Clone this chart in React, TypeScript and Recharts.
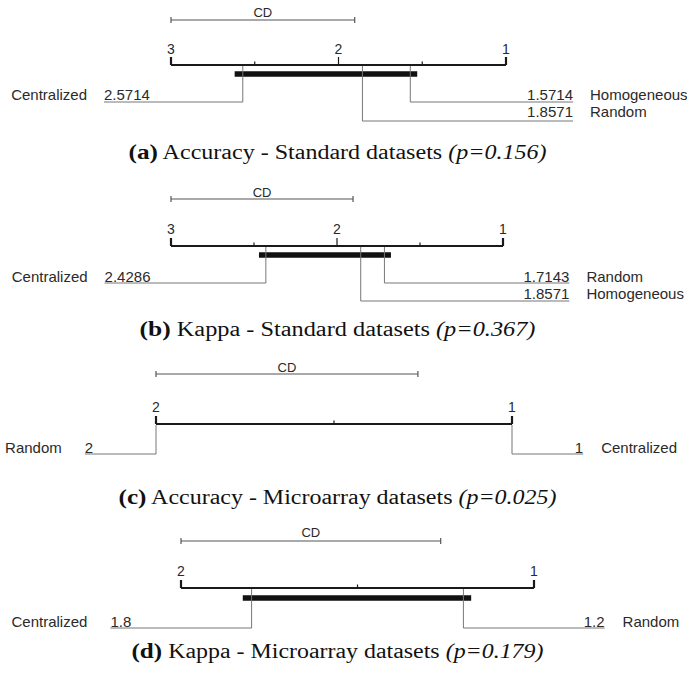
import React from 'react';
import { ComposedChart, XAxis, YAxis, ReferenceLine, ReferenceArea, Scatter } from 'recharts';

const W = 687;
const H = 674;

// (a) Accuracy - Standard datasets
const methodsA = ['Centralized', 'Homogeneous', 'Random'];
const ranksA = [2.5714, 1.5714, 1.8571];
const ticksA = [3, 2.5, 2, 1.5, 1];
const cliqueA = [2.62, 1.53];
const cdA = 1.0967;

// (b) Kappa - Standard datasets
const methodsB = ['Centralized', 'Random', 'Homogeneous'];
const ranksB = [2.4286, 1.7143, 1.8571];
const ticksB = [3, 2.5, 2, 1.5, 1];
const cliqueB = [2.47, 1.675];
const cdB = 1.0967;

// (c) Accuracy - Microarray datasets
const methodsC = ['Random', 'Centralized'];
const ranksC = [2, 1];
const ticksC = [2, 1.5, 1];
const cliqueC: number[] = [];
const cdC = 0.7357;

// (d) Kappa - Microarray datasets
const methodsD = ['Centralized', 'Random'];
const ranksD = [1.8, 1.2];
const ticksD = [2, 1.5, 1];
const cliqueD = [1.825, 1.178];
const cdD = 0.7357;

const captionTags = ['(a)', '(b)', '(c)', '(d)'];
const captionTitles = [
  'Accuracy - Standard datasets',
  'Kappa - Standard datasets',
  'Accuracy - Microarray datasets',
  'Kappa - Microarray datasets',
];
const pValues = ['0.156', '0.367', '0.025', '0.179'];

const PANELS = [
  { methods: methodsA, ranks: ranksA, ticks: ticksA, clique: cliqueA, cd: cdA },
  { methods: methodsB, ranks: ranksB, ticks: ticksB, clique: cliqueB, cd: cdB },
  { methods: methodsC, ranks: ranksC, ticks: ticksC, clique: cliqueC, cd: cdC },
  { methods: methodsD, ranks: ranksD, ticks: ticksD, clique: cliqueD, cd: cdD },
];

// pixel layout of each panel (y values are relative to the panel top)
const LAYOUT = [
  { top: 0, height: 170, axisL: 171, axisR: 506, cdY: 20, cdText: 16.5, tickText: 54, axisY: 65, cliqueY: 74, lineRows: [102, 121], textRows: [100, 117], gapL: 17, gapR: 17, capY: 159, capW: 418 },
  { top: 170, height: 170, axisL: 171, axisR: 503, cdY: 29, cdText: 26.5, tickText: 64, axisY: 76, cliqueY: 85, lineRows: [113, 131], textRows: [111.5, 128.5], gapL: 17, gapR: 17, capY: 336, capW: 396 },
  { top: 340, height: 160, axisL: 156, axisR: 512, cdY: 34, cdText: 31.5, tickText: 72, axisY: 84, cliqueY: 0, lineRows: [114], textRows: [113], gapL: 23, gapR: 18, capY: 504, capW: 438 },
  { top: 500, height: 174, axisL: 181, axisR: 534, cdY: 41, cdText: 36.5, tickText: 76, axisY: 88, cliqueY: 98, lineRows: [128], textRows: [127], gapL: 23, gapR: 18, capY: 658, capW: 412 },
];

const SANS = '"Liberation Sans", Arial, Helvetica, sans-serif';
const TEXT = '#2a2a2a';
const CONNECT = '#777';

const TextShape = (props: any) => {
  const { cx, cy, payload } = props;
  return (
    <text
      x={cx + (payload.dx || 0)}
      y={cy}
      textAnchor={payload.anchor}
      fontSize={payload.size}
      fontFamily={SANS}
      fill={TEXT}
    >
      {payload.text}
    </text>
  );
};

function CDPanel({ idx }: { idx: number }) {
  const p = PANELS[idx];
  const L = LAYOUT[idx];
  const hi = p.ticks[0];
  const span = hi - 1;
  const ppu = (L.axisR - L.axisL) / span;
  const dMax = hi + L.axisL / ppu;
  const dMin = 1 - (W - L.axisR) / ppu;
  const leftEnd = hi + 0.2 * span;
  const rightEnd = 1 - 0.2 * span;

  const sorted = p.methods.map((m, i) => ({ m, r: p.ranks[i] })).sort((a, b) => b.r - a.r);
  const nLeft = Math.floor(sorted.length / 2);
  const left = sorted.slice(0, nLeft);
  const right = sorted.slice(nLeft).reverse();

  const texts: any[] = [];
  texts.push({ x: hi - p.cd / 2, y: L.cdText, text: 'CD', anchor: 'middle', size: 13 });
  p.ticks
    .filter((t) => Number.isInteger(t))
    .forEach((t) => texts.push({ x: t, y: L.tickText, text: String(t), anchor: 'middle', size: 14 }));
  left.forEach((d, i) => {
    texts.push({ x: leftEnd, y: L.textRows[i], text: String(d.r), anchor: 'start', size: 15 });
    texts.push({ x: leftEnd, y: L.textRows[i], text: d.m, anchor: 'end', size: 15, dx: -L.gapL });
  });
  right.forEach((d, i) => {
    texts.push({ x: rightEnd, y: L.textRows[i], text: String(d.r), anchor: 'end', size: 15 });
    texts.push({ x: rightEnd, y: L.textRows[i], text: d.m, anchor: 'start', size: 15, dx: L.gapR });
  });

  return (
    <div style={{ position: 'absolute', left: 0, top: L.top }}>
      <ComposedChart width={W} height={L.height} margin={{ top: 0, right: 0, bottom: 0, left: 0 }}>
        <XAxis type="number" dataKey="x" domain={[dMin, dMax]} reversed allowDataOverflow hide />
        <YAxis type="number" dataKey="y" domain={[0, L.height]} reversed allowDataOverflow hide />

        {/* critical difference bar */}
        <ReferenceLine segment={[{ x: hi, y: L.cdY }, { x: hi - p.cd, y: L.cdY }]} stroke="#555" strokeWidth={1.2} />
        <ReferenceLine segment={[{ x: hi, y: L.cdY - 3 }, { x: hi, y: L.cdY + 3 }]} stroke="#555" strokeWidth={1.2} />
        <ReferenceLine segment={[{ x: hi - p.cd, y: L.cdY - 3 }, { x: hi - p.cd, y: L.cdY + 3 }]} stroke="#555" strokeWidth={1.2} />

        {/* rank axis */}
        <ReferenceLine segment={[{ x: hi, y: L.axisY }, { x: 1, y: L.axisY }]} stroke="#1a1a1a" strokeWidth={2} />
        {p.ticks.map((t) => {
          const major = Number.isInteger(t);
          const end = t === hi || t === 1;
          return (
            <ReferenceLine
              key={'t' + t}
              segment={[{ x: t, y: L.axisY - (major ? 8 : 3.5) }, { x: t, y: L.axisY }]}
              stroke="#1a1a1a"
              strokeWidth={end ? 2.2 : 1.2}
            />
          );
        })}

        {/* cliques */}
        {p.clique.length === 2 && (
          <ReferenceArea
            x1={p.clique[0]}
            x2={p.clique[1]}
            y1={L.cliqueY - 2.75}
            y2={L.cliqueY + 2.75}
            fill="#111"
            fillOpacity={1}
            stroke="none"
          />
        )}

        {/* connectors */}
        {left.map((d, i) => (
          <React.Fragment key={'l' + d.m}>
            <ReferenceLine segment={[{ x: d.r, y: L.axisY + 1 }, { x: d.r, y: L.lineRows[i] }]} stroke={CONNECT} strokeWidth={1} />
            <ReferenceLine segment={[{ x: d.r, y: L.lineRows[i] }, { x: leftEnd, y: L.lineRows[i] }]} stroke={CONNECT} strokeWidth={1} />
          </React.Fragment>
        ))}
        {right.map((d, i) => (
          <React.Fragment key={'r' + d.m}>
            <ReferenceLine segment={[{ x: d.r, y: L.axisY + 1 }, { x: d.r, y: L.lineRows[i] }]} stroke={CONNECT} strokeWidth={1} />
            <ReferenceLine segment={[{ x: d.r, y: L.lineRows[i] }, { x: rightEnd, y: L.lineRows[i] }]} stroke={CONNECT} strokeWidth={1} />
          </React.Fragment>
        ))}

        <Scatter data={texts} shape={TextShape} isAnimationActive={false} />
      </ComposedChart>
    </div>
  );
}

export default function App() {
  return (
    <div style={{ position: 'absolute', left: 0, top: 0, width: W, height: H, background: '#fff' }}>
      {PANELS.map((_, i) => (
        <CDPanel key={i} idx={i} />
      ))}
      <svg width={W} height={H} style={{ position: 'absolute', left: 0, top: 0, pointerEvents: 'none' }}>
        {LAYOUT.map((L, i) => (
          <text
            key={i}
            x={337.5}
            y={L.capY}
            textAnchor="middle"
            fontFamily='"Liberation Serif", "Times New Roman", serif'
            fontSize={20}
            fill="#111"
            textLength={L.capW}
            lengthAdjust="spacingAndGlyphs"
          >
            <tspan fontWeight="bold" fontSize={21}>{captionTags[i]}</tspan>
            <tspan> {captionTitles[i]} </tspan>
            <tspan fontStyle="italic">(p={pValues[i]})</tspan>
          </text>
        ))}
      </svg>
    </div>
  );
}
